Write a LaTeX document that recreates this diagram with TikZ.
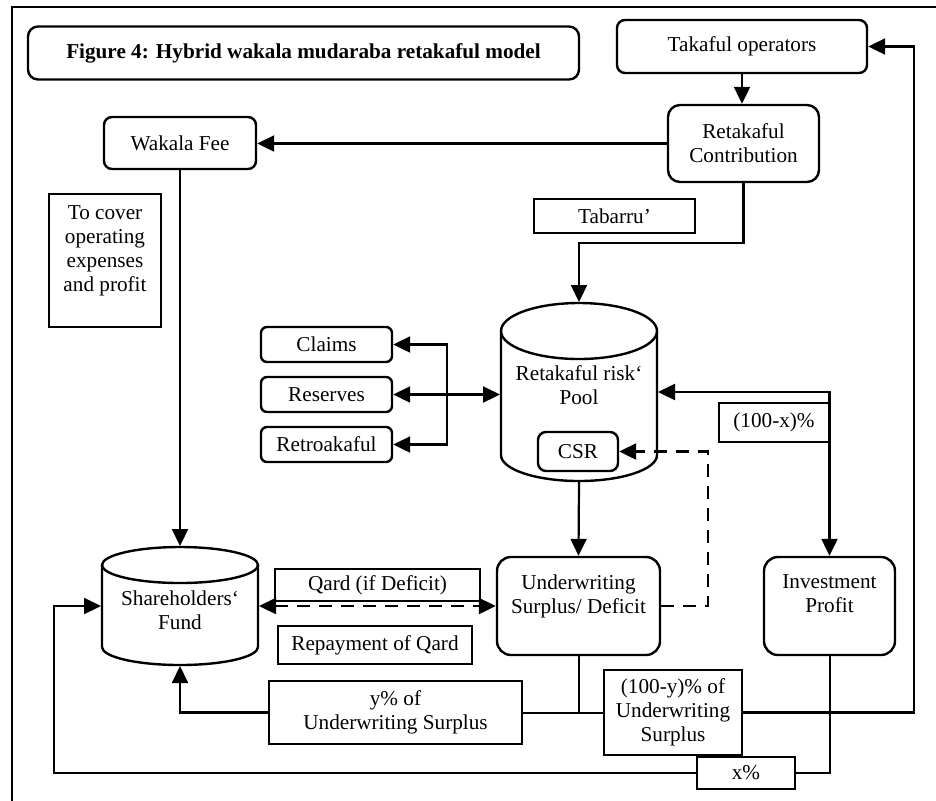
\documentclass[tikz,border=0pt]{standalone}
\usepackage{fontspec}
\setmainfont{Liberation Serif}
\usetikzlibrary{arrows.meta,calc}
\begin{document}
\begin{tikzpicture}[x=0.5pt,y=-0.5pt, line width=1pt,
  >={Triangle[length=8.5pt,width=8pt]},
  font=\fontsize{10.6}{12}\selectfont,
  rbox/.style={draw, line width=1.2pt, rounded corners=4pt, align=center, inner sep=0pt},
  bigbox/.style={rbox, rounded corners=7pt},
  lbox/.style={draw, line width=0.9pt, align=center, inner sep=0pt, fill=white},
  conn/.style={line width=1.1pt},
  thinconn/.style={line width=1pt},
  dashconn/.style={line width=1.1pt, dash pattern=on 6.5pt off 4.5pt},
  cyl/.style={line width=1.2pt},
  anchorbox/.style={inner sep=0pt}]
\useasboundingbox (0,0) rectangle (936,800);
% frame
\draw[line width=1.1pt] (12,7) rectangle (960,830);

% title
\node[rbox, rounded corners=5pt, minimum width=275.5pt, minimum height=26.5pt, font=\fontsize{10.6}{12}\selectfont\bfseries] (title) at (303.5,53) {Figure 4: Hybrid wakala mudaraba retakaful model};

% top nodes
\node[rbox, minimum width=125pt, minimum height=26.5pt] (tak) at (742,46.5) {Takaful operators};
\node[bigbox, rounded corners=6pt, minimum width=75.5pt, minimum height=38.5pt] (rc) at (743.5,143.5) {Retakaful\\Contribution};
\node[rbox, minimum width=76pt, minimum height=26pt] (wf) at (180,143) {Wakala Fee};
\node[lbox, minimum width=56pt, minimum height=66.5pt] (cover) at (105,260.5) {To cover\\operating\\expenses\\and profit\\ \mbox{}};
\node[lbox, minimum width=80.5pt, minimum height=17pt] (tab) at (614.5,216) {Tabarru’};

% left boxes
\node[rbox, rounded corners=3pt, minimum width=65.5pt, minimum height=17.5pt] (claims) at (326.5,344.5) {Claims};
\node[rbox, rounded corners=3pt, minimum width=65.5pt, minimum height=17.5pt] (reserves) at (326.5,394.5) {Reserves};
\node[rbox, rounded corners=3pt, minimum width=65.5pt, minimum height=17.5pt] (retro) at (326.5,444.5) {Retroakaful};

% pool cylinder
\node[anchorbox, minimum width=78pt, minimum height=89pt] (pool) at (579,392) {};
\draw[cyl] (579,331) ellipse [x radius=39pt, y radius=14pt];
\draw[cyl] (501,331) -- (501,455) arc[start angle=180, end angle=360, x radius=39pt, y radius=13pt] -- (657,331);
\node (pooltxt) at (579,385.5) [align=center] {Retakaful risk‘\\Pool};
\node[rbox, minimum width=40pt, minimum height=19.5pt] (csr) at (578,451.5) {CSR};

% shareholders cylinder
\node[anchorbox, minimum width=78pt, minimum height=59pt] (sh) at (180,606) {};
\draw[cyl] (180,565) ellipse [x radius=39pt, y radius=9pt];
\draw[cyl] (102,565) -- (102,647) arc[start angle=180, end angle=360, x radius=39pt, y radius=9pt] -- (258,565);
\node (shtxt) at (180,610.5) [align=center] {Shareholders‘\\Fund};

% middle row
\node[bigbox, minimum width=81.5pt, minimum height=49pt] (uw) at (578.5,606) {Underwriting\\Surplus/ Deficit\\ \mbox{}};
\node[bigbox, minimum width=65.5pt, minimum height=49pt] (ip) at (829.5,606) {Investment\\Profit\\ \mbox{}};
\node[lbox, minimum width=55pt, minimum height=19.5pt] (hx) at (774,422.5) {(100-x)\%};
\node[lbox, minimum width=102.5pt, minimum height=16pt] (qard) at (377.5,585) {Qard (if Deficit)};
\node[lbox, minimum width=97pt, minimum height=19pt] (repay) at (375,645) {Repayment of Qard};

% bottom boxes
\node[lbox, minimum width=126.5pt, minimum height=31.5pt] (ypct) at (395.5,712.5) {y\% of\\Underwriting Surplus};
\node[lbox, minimum width=69pt, minimum height=42.5pt] (ymy) at (673,712.5) {(100-y)\% of\\Underwriting\\Surplus};
\node[lbox, minimum width=49pt, minimum height=16pt] (xpct) at (746,773) {x\%};

% coordinates
\coordinate (tabj) at (579,243);
\coordinate (bus) at (447,0);
\coordinate (rt) at (914,0);
\coordinate (lft) at (54,0);
\coordinate (dsh) at (708,0);

% connectors
\draw[conn,->] (tak.south) -- (tak.south |- rc.north);
\draw[conn,->] (rc.west) -- (rc.west -| wf.east);
\draw[conn,->] (wf.south) -- (sh.north);
\draw[conn,->] (rc.south) |- (tabj) -- (pool.north);
\draw[conn,<->] (reserves.east) -- (reserves.east -| pool.west);
\draw[conn,->] (bus |- reserves.east) |- (claims.east);
\draw[conn,->] (bus |- reserves.east) |- (retro.east);
\draw[conn,<->] (pool.east) -| (ip.north);
\draw[conn,->] (pool.south) -- (uw.north);
\draw[dashconn,->] (uw.east) -| (dsh |- csr.east) -- (csr.east);
\draw[dashconn,<->] (sh.east) -- (uw.west);
\draw[thinconn] (uw.south) -- (uw.south |- ypct.east);
\draw[thinconn] (ypct.east) -- (ymy.west);
\draw[conn,->] (ypct.west) -| (sh.south);
\draw[conn,->] (ymy.east) -| (rt |- tak.east) -- (tak.east);
\draw[thinconn] (ip.south) |- (xpct.east);
\draw[conn,->] (xpct.west) -| (lft |- sh.west) -- (sh.west);

% redraw boxes on lines
\node[lbox, minimum width=55pt, minimum height=19.5pt] at (hx) {(100-x)\%};
\node[lbox, minimum width=49pt, minimum height=16pt] at (xpct) {x\%};
\end{tikzpicture}
\end{document}
